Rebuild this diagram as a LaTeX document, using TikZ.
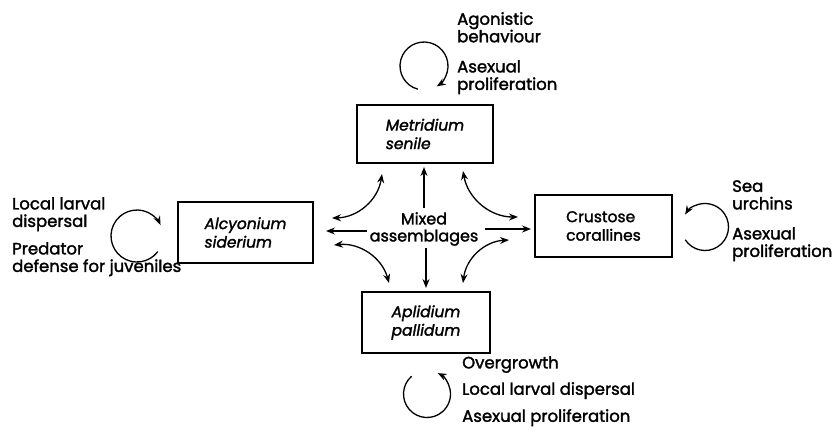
\documentclass[tikz,border=0pt]{standalone}
\usepackage{fontspec}
\setmainfont{Poppins}[FakeBold=1.8]
\usetikzlibrary{arrows.meta,calc}
\begin{document}
\begin{tikzpicture}[x=1pt,y=1pt,
  box/.style={draw,line width=1.7pt,inner sep=0pt,align=left,
    font=\itshape\fontsize{15.5}{18.5}\selectfont},
  lbl/.style={inner sep=0pt,align=left,anchor=north west,
    font=\fontsize{16.5}{17.5}\selectfont},
  conn/.style={line width=1.3pt,-{Stealth[length=9pt,width=7pt,inset=3pt]}},
  dconn/.style={line width=1.3pt,{Stealth[length=9pt,width=7pt,inset=3pt]}-{Stealth[length=9pt,width=7pt,inset=3pt]}},
  loop/.style={line width=1.3pt,-{Stealth[length=9pt,width=7pt,inset=3pt]}}]
\useasboundingbox (0,0) rectangle (834,-431);
% boxes
\node[box,minimum width=136pt,minimum height=58pt] (met) at (425,-134) {Metridium\\senile};
\node[box,minimum width=135pt,minimum height=61pt] (alc) at (245.5,-232.5) {Alcyonium\\siderium};
\node[box,minimum width=137pt,minimum height=62pt,font=\fontsize{15.5}{18.5}\selectfont] (cru) at (603.5,-226) {Crustose\\corallines};
\node[box,minimum width=128pt,minimum height=61pt] (apl) at (426,-322.5) {Aplidium\\pallidum};
\node[inner sep=0pt,align=center,font=\fontsize{16}{17}\selectfont] (mix) at (424,-229) {Mixed\\assemblages};
% connector end points
\coordinate (u1) at (424,-208); \coordinate (u2) at (424,-167);
\coordinate (d1) at (426,-248); \coordinate (d2) at (426,-288);
\coordinate (l1) at (367,-231); \coordinate (l2) at (326,-231);
\coordinate (r1) at (485,-229); \coordinate (r2) at (531,-229);
\coordinate (ula) at (332,-218); \coordinate (ulb) at (382,-174);
\coordinate (ura) at (463,-171); \coordinate (urb) at (518,-217);
\coordinate (lla) at (334,-245); \coordinate (llb) at (389,-283);
\coordinate (lra) at (463,-283); \coordinate (lrb) at (509,-240);
\draw[conn] (u1) -- (u2);
\draw[conn] (d1) -- (d2);
\draw[conn] (l1) -- (l2);
\draw[conn] (r1) -- (r2);
\draw[dconn] (ula) to[bend right=40] (ulb);
\draw[dconn] (ura) to[bend right=40] (urb);
\draw[dconn] (lla) to[bend left=40] (llb);
\draw[dconn] (lra) to[bend left=40] (lrb);
% loops
\coordinate (ct) at (424,-66);
\draw[loop] ($(ct)+(255:24)$) arc[start angle=255,end angle=-58,radius=24];
\coordinate (cl) at (137,-236);
\draw[loop] ($(cl)+(323:26)$) arc[start angle=323,end angle=25,radius=26];
\coordinate (cr) at (705,-227);
\draw[loop] ($(cr)+(213:23.5)$) arc[start angle=213,end angle=508,radius=23.5];
\coordinate (cb) at (427,-394);
\draw[loop] ($(cb)+(131:23.5)$) arc[start angle=131,end angle=423,radius=23.5];
% labels
\node[lbl] (t1) at (457,-12) {Agonistic\\behaviour};
\node[lbl] (t2) at (457,-60) {Asexual\\proliferation};
\node[lbl] (l1t) at (12,-197) {Local larval\\dispersal};
\node[lbl] (l2t) at (12,-242) {Predator\\defense for juveniles};
\node[lbl] (r1t) at (732,-180) {Sea\\urchins};
\node[lbl] (r2t) at (732,-227) {Asexual\\proliferation};
\node[lbl] (b1) at (462,-356) {Overgrowth};
\node[lbl] (b2) at (462,-382) {Local larval dispersal};
\node[lbl] (b3) at (462,-409) {Asexual proliferation};
\end{tikzpicture}
\end{document}
